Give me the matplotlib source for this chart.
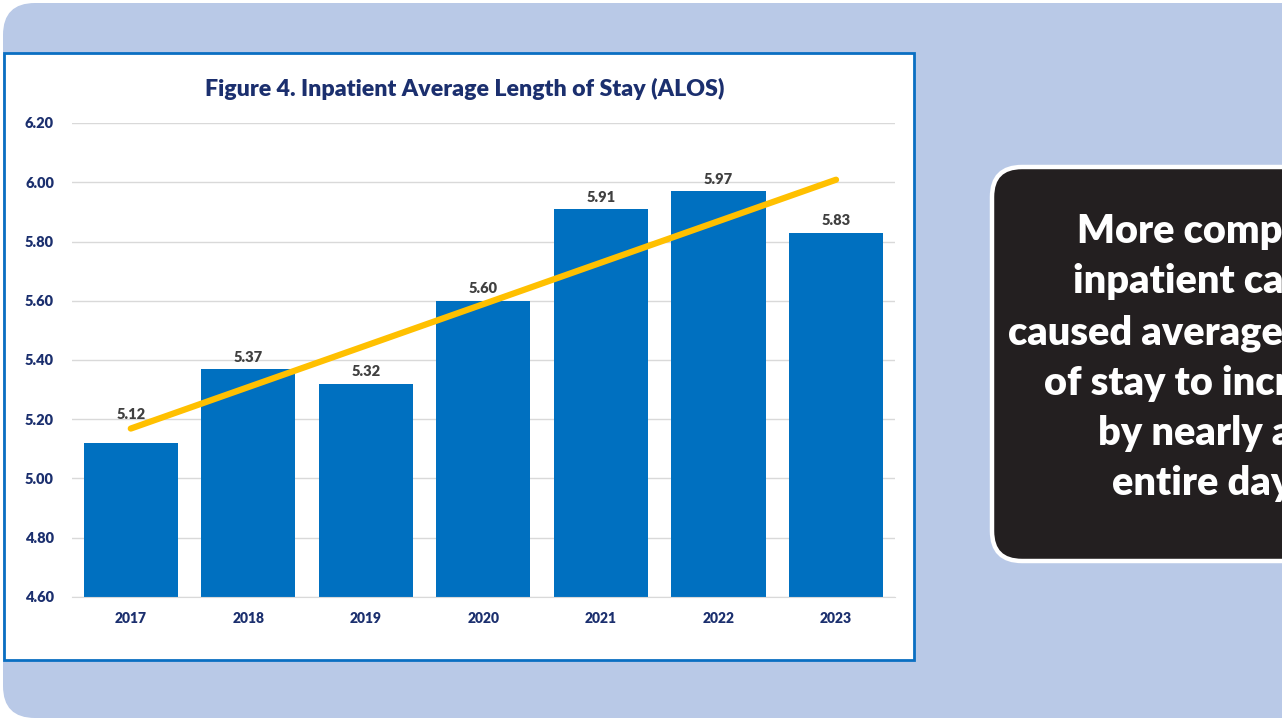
import numpy as np
import matplotlib.pyplot as plt
from matplotlib.patches import FancyBboxPatch, Rectangle

# Data
years = ['2017', '2018', '2019', '2020', '2021', '2022', '2023']
alos = [5.12, 5.37, 5.32, 5.60, 5.91, 5.97, 5.83]
y_ticks = [4.60, 4.80, 5.00, 5.20, 5.40, 5.60, 5.80, 6.00, 6.20]
title = 'Figure 4. Inpatient Average Length of Stay (ALOS)'
callout = ['More complex', 'inpatient cases', 'caused average length',
           'of stay to increase', 'by nearly an', 'entire day.']

plt.rcParams['font.family'] = ['Lato', 'DejaVu Sans']
navy = '#1b2f6e'
W, H = 1282, 721

fig = plt.figure(figsize=(W / 100, H / 100), dpi=100)
fig.patch.set_facecolor('white')

# background layer in pixel coordinates
bg = fig.add_axes([0, 0, 1, 1], zorder=0)
bg.set_xlim(0, W)
bg.set_ylim(H, 0)
bg.axis('off')
bg.add_patch(FancyBboxPatch((3, 3), 1400, 715, boxstyle='round,pad=0,rounding_size=32',
                            facecolor='#b9c9e7', edgecolor='none'))
bg.add_patch(Rectangle((4, 53), 910, 607, facecolor='white', edgecolor='#0a6fc2', lw=2))
bg.add_patch(FancyBboxPatch((992, 167), 420, 394, boxstyle='round,pad=0,rounding_size=30',
                            facecolor='#231f20', edgecolor='white', lw=3.2))

# callout text, lines centred on one x
probe = bg.text(0, 0, callout[2], fontsize=28.5, fontweight='heavy')
fig.canvas.draw()
w_px = probe.get_window_extent(fig.canvas.get_renderer()).width
probe.remove()
cx = 1008 + w_px / 2
for i, line in enumerate(callout):
    bg.text(cx, 243 + i * 50.5, line, fontsize=28.5, fontweight='heavy', color='white',
            ha='center', va='baseline')

bg.text(465, 96, title, fontsize=16.7, fontweight='heavy', color=navy,
        ha='center', va='baseline')

# chart
ax = fig.add_axes([72 / W, 124 / H, 822.8 / W, 474 / H], zorder=1)
ax.patch.set_alpha(0)
x = np.arange(len(years))
bars = ax.bar(x, alos, width=0.8, color='#0070c0', zorder=2)
ax.set_xlim(-0.5, len(years) - 0.5)
ax.set_ylim(4.6, 6.2)
ax.set_yticks(y_ticks)
ax.set_yticklabels([f'{v:.2f}' for v in y_ticks])
ax.set_xticks(x)
ax.set_xticklabels(years)
ax.grid(axis='y', color='#d9d9d9', lw=1, zorder=0)
for s in ['top', 'right', 'left']:
    ax.spines[s].set_visible(False)
ax.spines['bottom'].set_color('#d9d9d9')
ax.tick_params(length=0, labelcolor=navy)
ax.tick_params(axis='y', pad=13, labelsize=10.5)
ax.tick_params(axis='x', pad=11, labelsize=10)
for lab in ax.get_xticklabels() + ax.get_yticklabels():
    lab.set_fontweight('heavy')

# data labels (first one sits higher, clear of the trend line)
extra = [12, 0, 0, 0, 0, 0, 0]
for xi, v, e in zip(x, alos, extra):
    ax.annotate(f'{v:.2f}', (xi, v), xytext=(0, 8.5 + e), textcoords='offset points',
                ha='center', va='center', fontsize=10.5, fontweight='heavy', color='#404040')

# linear trend line
k, b = np.polyfit(x, alos, 1)
ax.plot(x, k * x + b, color='#ffc000', lw=4.5, solid_capstyle='round', zorder=3)

fig.savefig('out.png', dpi=100)
